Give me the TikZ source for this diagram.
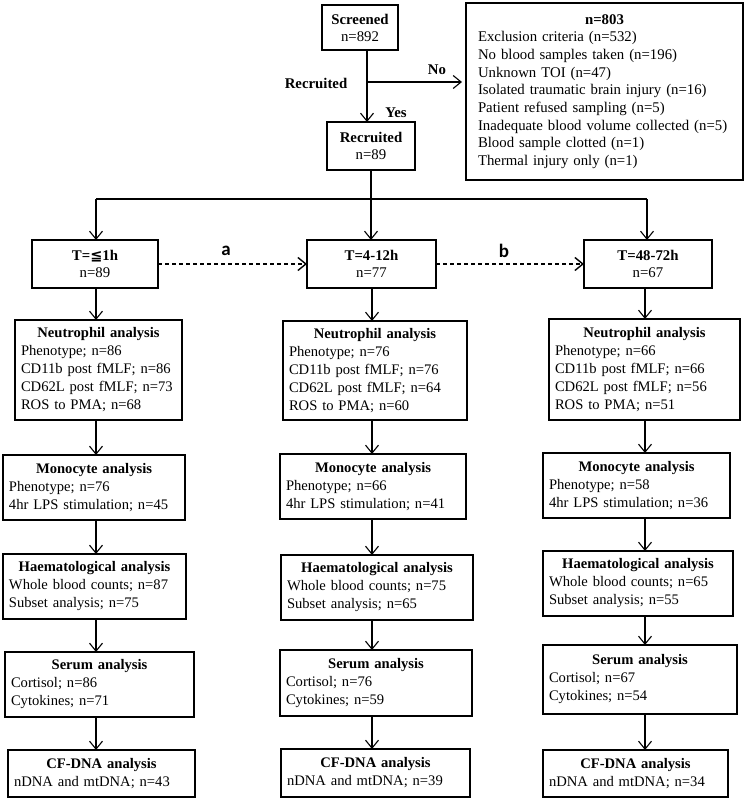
\documentclass[tikz,border=0pt]{standalone}
\usepackage{fontspec}
\setmainfont{Liberation Serif}
\newfontfamily\dejavu{DejaVu Sans}
\newfontfamily\calib{Carlito}
\usetikzlibrary{arrows.meta}
\newcommand\bx[6]{%
  \pgfmathsetmacro\bw{#3-#2}\pgfmathsetmacro\bh{#5-#4}\pgfmathsetmacro\tw{#3-#2-12}%
  \node[abox, minimum width=\bw pt, minimum height=\bh pt, text width=\tw pt] (#1) at (#2,#4) {#6};}
\newcommand\tbx[6]{%
  \pgfmathsetmacro\bw{#3-#2}\pgfmathsetmacro\bh{#5-#4}%
  \node[thickbox, minimum width=\bw pt, minimum height=\bh pt] (#1) at (#2,#4) {#6};}
\begin{document}
\begin{tikzpicture}[x=1pt,y=-1pt,
  every node/.style={font=\fontsize{14.6}{18}\selectfont},
  thickbox/.style={draw, line width=2.3pt, inner sep=0pt, outer sep=0pt, align=center, anchor=north west,
    font=\fontsize{14.8}{17}\selectfont},
  abox/.style={draw, line width=1.1pt, inner xsep=6pt, inner ysep=0pt, outer sep=0pt, anchor=north west},
  conn/.style={line width=1.1pt},
  arr/.style={conn, -{Straight Barb[length=8pt,width=13pt]}},
  dasharr/.style={arr, line width=1.4pt, dash pattern=on 4pt off 3pt},
  lab/.style={font=\fontsize{14.8}{18}\selectfont\bfseries},
  sanslab/.style={font=\calib\bfseries\fontsize{19}{20}\selectfont}
]
\useasboundingbox (0,0) rectangle (746,800);

% top part
\tbx{scr}{322}{398}{5}{50}{\textbf{Screened}\\n=892}
\tbx{rec}{327}{415}{122}{170}{\textbf{Recruited}\\n=89}
\node[draw, line width=2.3pt, outer sep=0pt, anchor=north west, minimum width=277pt, minimum height=177pt,
  inner xsep=12pt, inner ysep=0pt, text width=253pt, font=\fontsize{14.8}{17.7}\selectfont] (exc) at (466,3)
  {\centering\textbf{n=803}\par\raggedright
   Exclusion criteria (n=532)\\
   No blood samples taken (n=196)\\
   Unknown TOI (n=47)\\
   Isolated traumatic brain injury (n=16)\\
   Patient refused sampling (n=5)\\
   Inadequate blood volume collected (n=5)\\
   Blood sample clotted (n=1)\\
   Thermal injury only (n=1)};

\coordinate (jx) at (367,82);
\draw[arr] (scr.south -| jx) -- (rec.north -| jx);
\draw[arr, shorten >=4pt] (jx) -- (exc.west |- jx);
\node[lab] (lno) at (437,70) {No};
\node[lab] (lrec) at (316,83) {Recruited};
\node[lab] (lyes) at (396,113) {Yes};

% time points
\tbx{t1}{32}{158}{240}{288}{\textbf{T={\dejavu\bfseries\fontsize{14.5}{14}\selectfont ≦}1h}\\n=89}
\tbx{t2}{307}{436}{240}{288}{\textbf{T=4-12h}\\n=77}
\tbx{t3}{584}{712}{240}{288}{\textbf{T=48-72h}\\n=67}

\coordinate (hl) at (96,199);
\coordinate (hm) at (371,199);
\coordinate (hr) at (647,199);
\draw[conn] (rec.south -| hm) -- (hm);
\draw[conn] (hl) -- (hr);
\draw[arr] (hl) -- (t1.north -| hl);
\draw[arr] (hm) -- (t2.north -| hm);
\draw[arr] (hr) -- (t3.north -| hr);

\draw[dasharr] (t1.east) -- (t2.west);
\draw[dasharr] (t2.east) -- (t3.west);
\node[sanslab] (la) at (226,251) {a};
\node[sanslab] (lb) at (504,251) {b};

% column 1
\bx{neu1}{15}{182}{320}{420}{\centering\textbf{Neutrophil analysis}\par\raggedright
  Phenotype; n=86\\CD11b post fMLF; n=86\\CD62L post fMLF; n=73\\ROS to PMA; n=68}
\bx{mon1}{3}{185}{455}{520}{\centering\textbf{Monocyte analysis}\par\raggedright
  Phenotype; n=76\\4hr LPS stimulation; n=45}
\bx{hae1}{3}{186}{554}{619}{\centering\textbf{Haematological analysis}\par\raggedright
  Whole blood counts; n=87\\Subset analysis; n=75}
\bx{ser1}{5}{194}{652}{717}{\centering\textbf{Serum analysis}\par\raggedright
  Cortisol; n=86\\Cytokines; n=71}
\bx{cf1}{8}{195}{750}{797}{\centering\textbf{CF-DNA analysis}\par\raggedright
  nDNA and mtDNA; n=43}

% column 2
\bx{neu2}{283}{467}{321}{420}{\centering\textbf{Neutrophil analysis}\par\raggedright
  Phenotype; n=76\\CD11b post fMLF; n=76\\CD62L post fMLF; n=64\\ROS to PMA; n=60}
\bx{mon2}{280}{466}{454}{519}{\centering\textbf{Monocyte analysis}\par\raggedright
  Phenotype; n=66\\4hr LPS stimulation; n=41}
\bx{hae2}{281}{473}{555}{620}{\centering\textbf{Haematological analysis}\par\raggedright
  Whole blood counts; n=75\\Subset analysis; n=65}
\bx{ser2}{280}{472}{650}{716}{\centering\textbf{Serum analysis}\par\raggedright
  Cortisol; n=76\\Cytokines; n=59}
\bx{cf2}{281}{470}{749}{797}{\centering\textbf{CF-DNA analysis}\par\raggedright
  nDNA and mtDNA; n=39}

% column 3
\bx{neu3}{549}{740}{319}{420}{\centering\textbf{Neutrophil analysis}\par\raggedright
  Phenotype; n=66\\CD11b post fMLF; n=66\\CD62L post fMLF; n=56\\ROS to PMA; n=51}
\bx{mon3}{543}{730}{453}{518}{\centering\textbf{Monocyte analysis}\par\raggedright
  Phenotype; n=58\\4hr LPS stimulation; n=36}
\bx{hae3}{543}{733}{551}{616}{\centering\textbf{Haematological analysis}\par\raggedright
  Whole blood counts; n=65\\Subset analysis; n=55}
\bx{ser3}{543}{737}{645}{714}{\centering\textbf{Serum analysis}\par\raggedright
  Cortisol; n=67\\Cytokines; n=54}
\bx{cf3}{543}{728}{750}{797}{\centering\textbf{CF-DNA analysis}\par\raggedright
  nDNA and mtDNA; n=34}

% vertical arrows
\coordinate (c1) at (96,0);
\coordinate (c2) at (372,0);
\coordinate (c3) at (645,0);
\foreach \a/\b in {t1/neu1, neu1/mon1, mon1/hae1, hae1/ser1, ser1/cf1}
  \draw[arr] (\a.south -| c1) -- (\b.north -| c1);
\foreach \a/\b in {t2/neu2, neu2/mon2, mon2/hae2, hae2/ser2, ser2/cf2}
  \draw[arr] (\a.south -| c2) -- (\b.north -| c2);
\foreach \a/\b in {t3/neu3, neu3/mon3, mon3/hae3, hae3/ser3, ser3/cf3}
  \draw[arr] (\a.south -| c3) -- (\b.north -| c3);
\end{tikzpicture}
\end{document}
